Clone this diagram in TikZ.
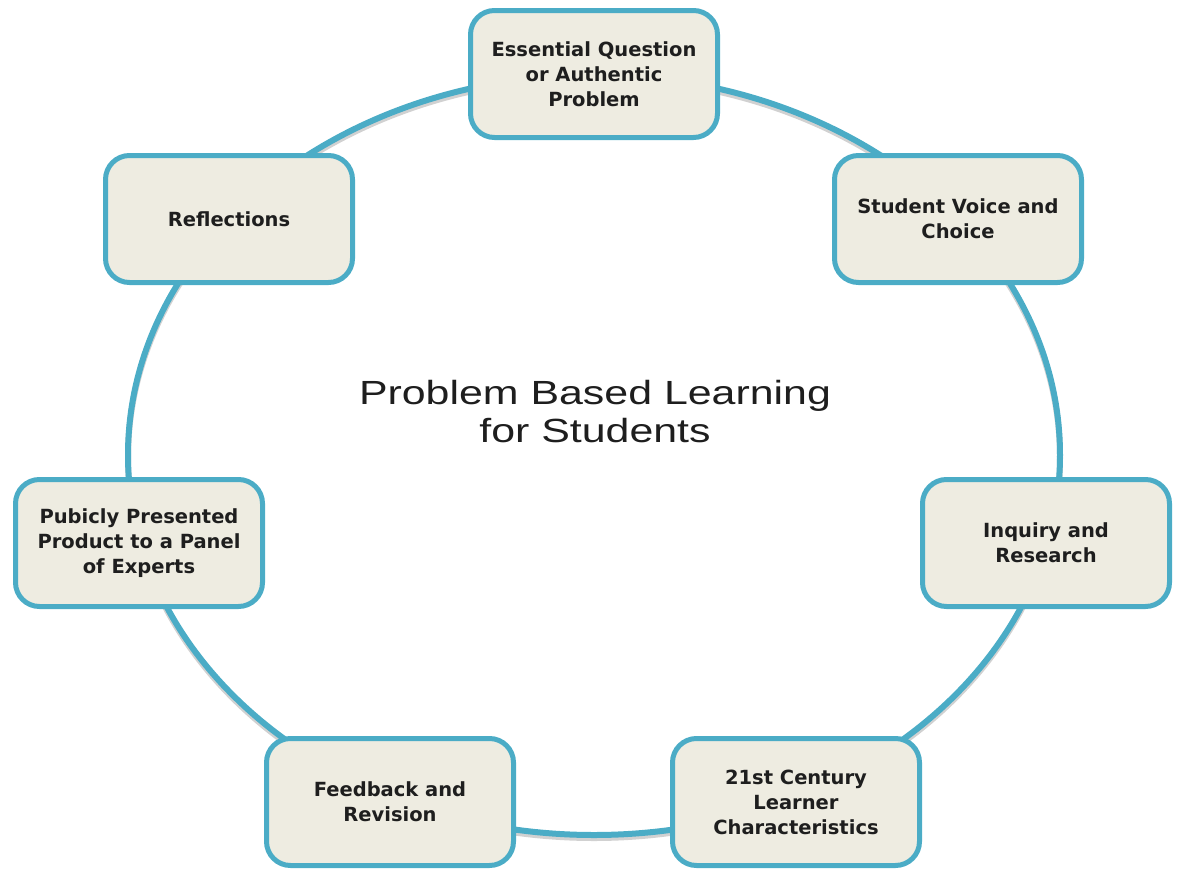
\documentclass[tikz,border=0pt]{standalone}
\usepackage{fontspec}
\newfontfamily\boxfont{DejaVu Sans}
\newfontfamily\titlefont{Liberation Sans}[FakeStretch=1.28]
\definecolor{ringblue}{HTML}{4BACC6}
\definecolor{boxfill}{HTML}{EEECE1}
\definecolor{txt}{HTML}{1E1E1E}
\begin{document}
\begin{tikzpicture}[x=1pt,y=-1pt,
  stage/.style={draw=ringblue, line width=5pt, fill=boxfill, rounded corners=24pt,
    minimum width=247pt, minimum height=127pt, align=center, text=txt,
    font=\boxfont\bfseries\fontsize{19.5}{25}\selectfont, inner sep=0pt},
  ring/.style={draw=ringblue, line width=6pt},
  ringshadow/.style={draw=black, line width=6pt, opacity=0.18}]
\useasboundingbox (0,0) rectangle (1179,873);
\coordinate (c) at (594,455);
\draw[ringshadow] ([yshift=-3pt]c) ellipse [x radius=466pt, y radius=380pt];
\draw[ring] (c) ellipse [x radius=466pt, y radius=380pt];
\node[stage] (eq) at (594,74) {Essential Question\\or Authentic\\Problem};
\node[stage] (sv) at (958,219) {Student Voice and\\Choice};
\node[stage] (ir) at (1046,543) {Inquiry and\\Research};
\node[stage] (cl) at (796,802) {21st Century\\Learner\\Characteristics};
\node[stage] (fr) at (390,802) {Feedback and\\Revision};
\node[stage] (pp) at (139,543) {Pubicly Presented\\Product to a Panel\\of Experts};
\node[stage] (rf) at (229,219) {Reflections};
\node[align=center, text=txt, font=\titlefont\fontsize{33.5}{38}\selectfont] (title) at (595,412) {Problem Based Learning\\for Students};
\end{tikzpicture}
\end{document}
